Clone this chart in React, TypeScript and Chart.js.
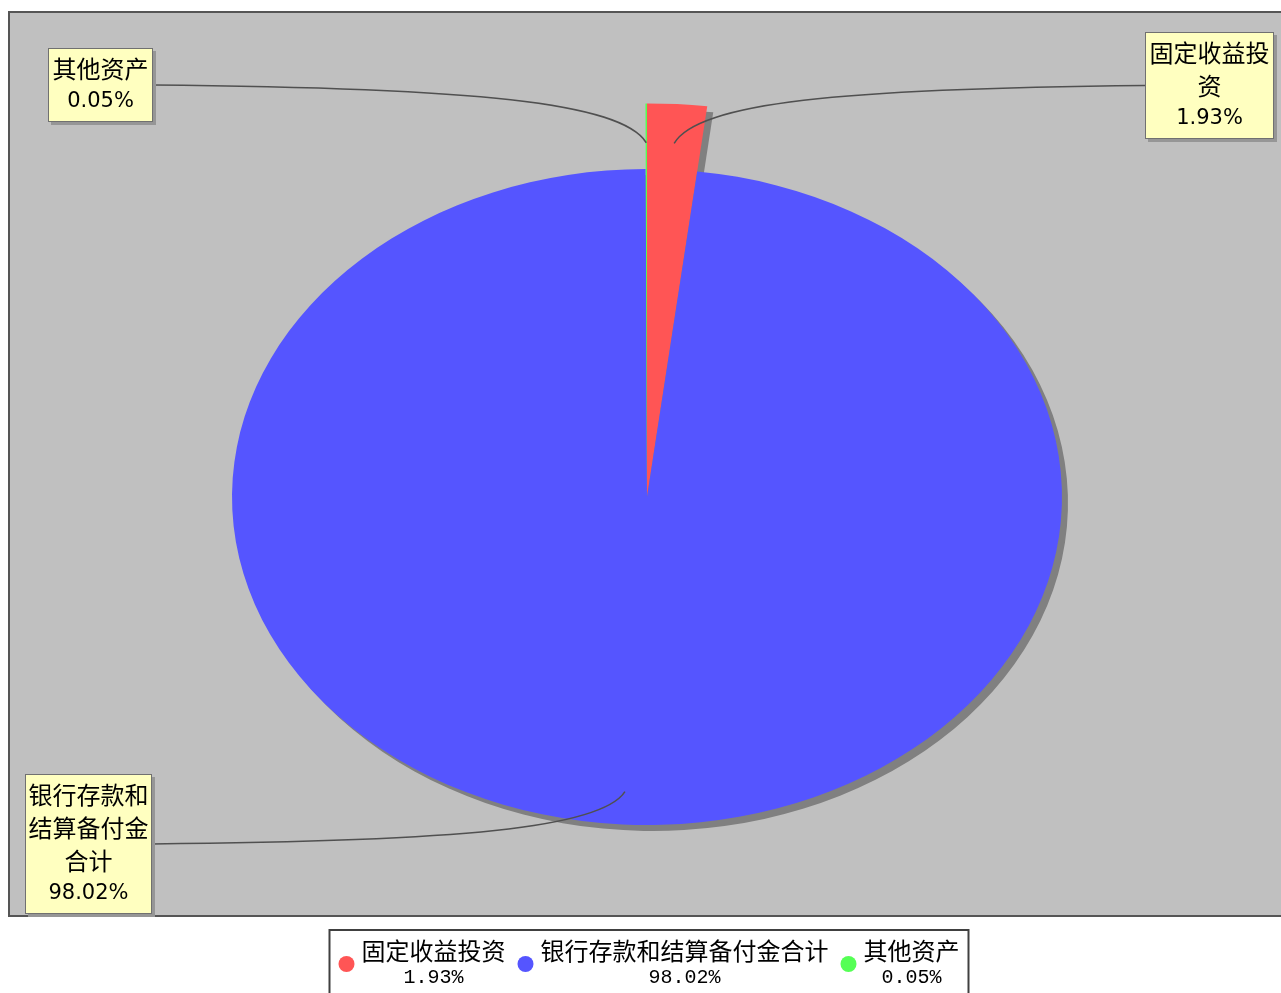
import { useEffect, useRef } from 'react';
import { Chart, registerables } from 'chart.js';

Chart.register(...registerables);

// ---- data ----
const CATEGORIES = ['固定收益投资', '银行存款和结算备付金合计', '其他资产'];
const PERCENTS = [1.93, 98.02, 0.05];
const COLORS = ['#FF5555', '#5555FF', '#55FF55'];
const EXPLODED = [true, false, true];

// ---- layout / style ----
const W = 1281;
const H = 993;
const PIE = { cx: 647, cy: 497, rx: 415, ry: 328 };
const SQUASH = PIE.ry / PIE.rx;
const EXPLODE_FACTOR = 1.2;
const ANCHOR_RATIO = 0.9;
const SHADOW = { dx: 6, dy: 6, color: 'rgb(128,128,128)' };
const PLOT_AREA = { left: 9, top: 12, right: 1300, bottom: 916 };
const LABEL_LAYOUT = [
  { x: 1145, y: 32, w: 129, side: 'left' },
  { x: 25, y: 774, w: 127, side: 'right' },
  { x: 48, y: 48, w: 105, side: 'right' },
];
const LABEL_LINE_H = 33;
const LABEL_PAD = 4;
const CHARS_PER_LINE = 5;
const CJK = '"Noto Sans CJK SC", "Noto Sans", sans-serif';
const LEGEND = {
  cx: 649, top: 930, bottom: 1000, marker: 8, markerGap: 7, itemGap: 12, pad: 9,
  line1: 951, line2: 978, markerY: 964,
};

const fmt = (v: number) => `${v.toFixed(2)}%`;
const wrap = (s: string) => {
  const out: string[] = [];
  for (let i = 0; i < s.length; i += CHARS_PER_LINE) out.push(s.slice(i, i + CHARS_PER_LINE));
  return out;
};

function squash(ctx: CanvasRenderingContext2D, cx: number, cy: number) {
  ctx.translate(cx, cy);
  ctx.scale(1, SQUASH);
  ctx.translate(-cx, -cy);
}

function anchorOf(a: any) {
  const mid = (a.startAngle + a.endAngle) / 2;
  const r = a.outerRadius * ANCHOR_RATIO;
  return { x: a.x + r * Math.cos(mid), y: a.y + r * Math.sin(mid) * SQUASH };
}

function drawLabels(chart: any) {
  const ctx: CanvasRenderingContext2D = chart.ctx;
  const arcs = chart.getDatasetMeta(0).data as any[];
  ctx.save();
  arcs.forEach((a, i) => {
    const box = LABEL_LAYOUT[i];
    const lines = wrap(CATEGORIES[i]);
    const h = LABEL_PAD * 2 + LABEL_LINE_H * (lines.length + 1);
    const T = { x: box.side === 'left' ? box.x : box.x + box.w, y: box.y + h / 2 };
    const A = anchorOf(a);
    const P1 = { x: A.x + 0.05 * (T.x - A.x), y: A.y + 0.7 * (T.y - A.y) };
    const P2 = { x: A.x + 0.35 * (T.x - A.x), y: T.y + 0.05 * (A.y - T.y) };
    ctx.strokeStyle = '#505050';
    ctx.lineWidth = 1.5;
    ctx.beginPath();
    ctx.moveTo(T.x, T.y);
    ctx.bezierCurveTo(P2.x, P2.y, P1.x, P1.y, A.x, A.y);
    ctx.stroke();

    ctx.fillStyle = 'rgb(150,150,150)';
    ctx.fillRect(box.x + 3, box.y + 3, box.w, h);
    ctx.fillStyle = '#FFFFC0';
    ctx.fillRect(box.x, box.y, box.w, h);
    ctx.strokeStyle = '#707070';
    ctx.lineWidth = 1;
    ctx.strokeRect(box.x + 0.5, box.y + 0.5, box.w - 1, h - 1);

    ctx.fillStyle = '#000';
    ctx.textAlign = 'center';
    ctx.textBaseline = 'middle';
    const cx = box.x + box.w / 2;
    ctx.font = `24px ${CJK}`;
    lines.forEach((ln, k) => {
      ctx.fillText(ln, cx, box.y + LABEL_PAD + LABEL_LINE_H * (k + 0.5));
    });
    ctx.font = '21px "DejaVu Sans", sans-serif';
    ctx.fillText(fmt(PERCENTS[i]), cx, box.y + LABEL_PAD + LABEL_LINE_H * (lines.length + 0.5));
  });
  ctx.restore();
}

function drawLegend(chart: any) {
  const ctx: CanvasRenderingContext2D = chart.ctx;
  ctx.save();
  ctx.font = `24px ${CJK}`;
  const widths = CATEGORIES.map((c) => ctx.measureText(c).width);
  const itemWs = widths.map((w) => LEGEND.marker * 2 + LEGEND.markerGap + w);
  const total = LEGEND.pad * 2 + itemWs.reduce((s, v) => s + v, 0) + LEGEND.itemGap * (CATEGORIES.length - 1);
  const left = LEGEND.cx - total / 2;
  ctx.fillStyle = '#fff';
  ctx.fillRect(left, LEGEND.top, total, LEGEND.bottom - LEGEND.top);
  ctx.strokeStyle = '#404040';
  ctx.lineWidth = 2;
  ctx.strokeRect(left, LEGEND.top, total, LEGEND.bottom - LEGEND.top);
  let x = left + LEGEND.pad;
  CATEGORIES.forEach((c, i) => {
    ctx.fillStyle = COLORS[i];
    ctx.beginPath();
    ctx.arc(x + LEGEND.marker, LEGEND.markerY, LEGEND.marker, 0, Math.PI * 2);
    ctx.fill();
    const tx = x + LEGEND.marker * 2 + LEGEND.markerGap;
    ctx.fillStyle = '#000';
    ctx.textBaseline = 'middle';
    ctx.textAlign = 'left';
    ctx.font = `24px ${CJK}`;
    ctx.fillText(c, tx, LEGEND.line1);
    ctx.textAlign = 'center';
    ctx.font = '20px "Liberation Mono", monospace';
    ctx.fillText(fmt(PERCENTS[i]), tx + widths[i] / 2, LEGEND.line2);
    x += itemWs[i] + LEGEND.itemGap;
  });
  ctx.restore();
}

const jfreePie = {
  id: 'jfreePie',
  beforeDraw(chart: any) {
    const ctx: CanvasRenderingContext2D = chart.ctx;
    ctx.save();
    ctx.fillStyle = '#fff';
    ctx.fillRect(0, 0, chart.width, chart.height);
    ctx.fillStyle = '#C0C0C0';
    const w = PLOT_AREA.right - PLOT_AREA.left;
    const h = PLOT_AREA.bottom - PLOT_AREA.top;
    ctx.fillRect(PLOT_AREA.left, PLOT_AREA.top, w, h);
    ctx.strokeStyle = '#555';
    ctx.lineWidth = 2;
    ctx.strokeRect(PLOT_AREA.left, PLOT_AREA.top, w, h);
    ctx.restore();
  },
  afterDatasetsUpdate(chart: any) {
    const meta = chart.getDatasetMeta(0);
    const base = (meta.controller as any).outerRadius;
    meta.data.forEach((arc: any, i: number) => {
      arc.outerRadius = EXPLODED[i] ? base * EXPLODE_FACTOR : base;
    });
  },
  beforeDatasetsDraw(chart: any) {
    const ctx: CanvasRenderingContext2D = chart.ctx;
    const arcs = chart.getDatasetMeta(0).data as any[];
    const cx = arcs[0].x;
    const cy = arcs[0].y;
    ctx.save();
    ctx.translate(SHADOW.dx, SHADOW.dy);
    squash(ctx, cx, cy);
    ctx.fillStyle = SHADOW.color;
    arcs.forEach((a) => {
      ctx.beginPath();
      ctx.moveTo(a.x, a.y);
      ctx.arc(a.x, a.y, a.outerRadius, a.startAngle, a.endAngle);
      ctx.closePath();
      ctx.fill();
    });
    ctx.restore();
    ctx.save();
    squash(ctx, cx, cy);
  },
  afterDatasetsDraw(chart: any) {
    chart.ctx.restore();
    drawLabels(chart);
    drawLegend(chart);
  },
};

export default function App() {
  const ref = useRef<HTMLCanvasElement>(null);
  useEffect(() => {
    const chart = new Chart(ref.current as HTMLCanvasElement, {
      type: 'pie',
      data: {
        labels: CATEGORIES,
        datasets: [
          {
            data: PERCENTS,
            backgroundColor: COLORS,
            borderWidth: 0,
            clip: false as any,
          } as any,
        ],
      },
      options: {
        responsive: false,
        animation: false,
        devicePixelRatio: 1,
        layout: {
          padding: {
            left: PIE.cx - PIE.rx,
            right: W - (PIE.cx + PIE.rx),
            top: PIE.cy - PIE.rx,
            bottom: H - (PIE.cy + PIE.rx),
          },
        },
        plugins: {
          legend: { display: false },
          tooltip: { enabled: false },
          title: { display: false },
        },
        events: [],
      },
      plugins: [jfreePie as any],
    });
    return () => chart.destroy();
  }, []);
  return (
    <div style={{ position: 'fixed', left: 0, top: 0, width: W, height: H, background: '#fff', overflow: 'hidden' }}>
      <canvas ref={ref} width={W} height={H} style={{ display: 'block', width: W, height: H }} />
    </div>
  );
}
